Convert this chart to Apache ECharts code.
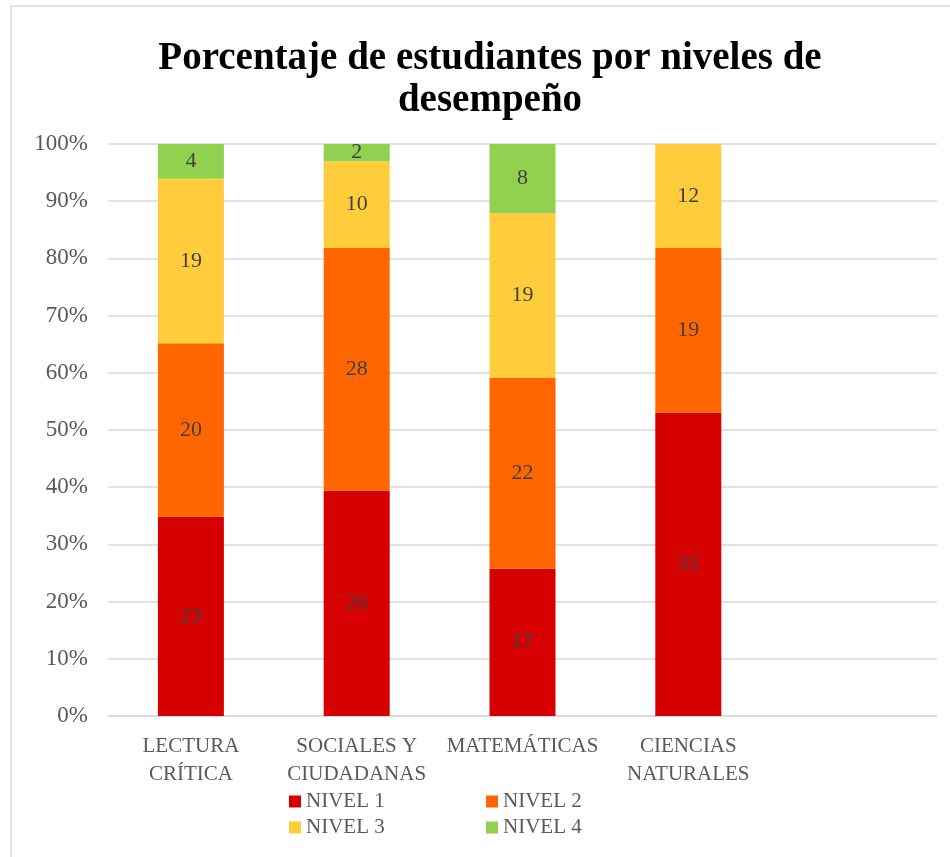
<!DOCTYPE html>
<html>
<head>
<meta charset="utf-8">
<script src="https://cdn.jsdelivr.net/npm/echarts@6/dist/echarts.min.js"></script>
<style>html,body{margin:0;padding:0;background:#fff}#c{width:950px;height:857px}</style>
</head>
<body>
<div id="c"></div>
<script>
const categories = ['LECTURA\nCRÍTICA', 'SOCIALES Y\nCIUDADANAS', 'MATEMÁTICAS', 'CIENCIAS\nNATURALES', ''];
const seriesNames = ['NIVEL 1', 'NIVEL 2', 'NIVEL 3', 'NIVEL 4'];
const nivel1 = [23, 26, 17, 35];
const nivel2 = [20, 28, 22, 19];
const nivel3 = [19, 10, 19, 12];
const nivel4 = [4, 2, 8, 0];
const yTicks = [0, 10, 20, 30, 40, 50, 60, 70, 80, 90, 100];

const colors = ['#D60000', '#FF6600', '#FFCD3C', '#92D050'];
const counts = [nivel1, nivel2, nivel3, nivel4];
const totals = nivel1.map((_, i) => counts.reduce((s, arr) => s + arr[i], 0));
const FONT = 'Liberation Serif';

const series = seriesNames.map((name, si) => ({
  name: name,
  type: 'bar',
  stack: 'total',
  barWidth: 66,
  itemStyle: { color: colors[si] },
  label: {
    show: true,
    position: 'inside',
    fontFamily: FONT,
    fontSize: 22,
    color: '#404040',
    formatter: p => (p.data && p.data.count) ? String(p.data.count) : ''
  },
  data: counts[si].map((c, i) => ({ value: c / totals[i] * 100, count: c }))
}));

const legendPos = [[289, 791], [486, 791], [289, 817], [486, 817]];
const legends = seriesNames.map((n, i) => ({
  data: [n],
  left: legendPos[i][0],
  top: legendPos[i][1],
  padding: 0,
  icon: 'rect',
  itemWidth: 12,
  itemHeight: 12,
  itemGap: 5,
  textStyle: { fontFamily: FONT, fontSize: 21, color: '#595959' }
}));

const chart = echarts.init(document.getElementById('c'));
chart.setOption({
  animation: false,
  backgroundColor: '#fff',
  title: {
    text: 'Porcentaje de estudiantes por niveles de\ndesempeño',
    left: 485,
    top: 33,
    textAlign: 'center',
    textStyle: { fontFamily: FONT, fontWeight: 'bold', fontSize: 39, lineHeight: 42, color: '#000' }
  },
  graphic: [{
    type: 'rect',
    shape: { x: 11, y: 6, width: 960, height: 900 },
    style: { fill: 'none', stroke: '#d9d9d9', lineWidth: 1.5 },
    silent: true
  }],
  legend: legends,
  grid: { left: 108, right: 13, top: 144, bottom: 141, containLabel: false },
  xAxis: {
    type: 'category',
    data: categories,
    axisTick: { show: false },
    axisLine: { lineStyle: { color: '#d9d9d9', width: 1.5 } },
    axisLabel: { fontFamily: FONT, fontSize: 21, color: '#595959', lineHeight: 28, margin: 16, interval: 0 }
  },
  yAxis: {
    type: 'value',
    min: yTicks[0],
    max: yTicks[yTicks.length - 1],
    interval: 10,
    axisLine: { show: false },
    axisTick: { show: false },
    splitLine: { lineStyle: { color: '#d9d9d9', width: 1.5 } },
    axisLabel: { fontFamily: FONT, fontSize: 23, color: '#595959', margin: 20, formatter: v => v + '%' }
  },
  series: series
});
</script>
</body>
</html>
